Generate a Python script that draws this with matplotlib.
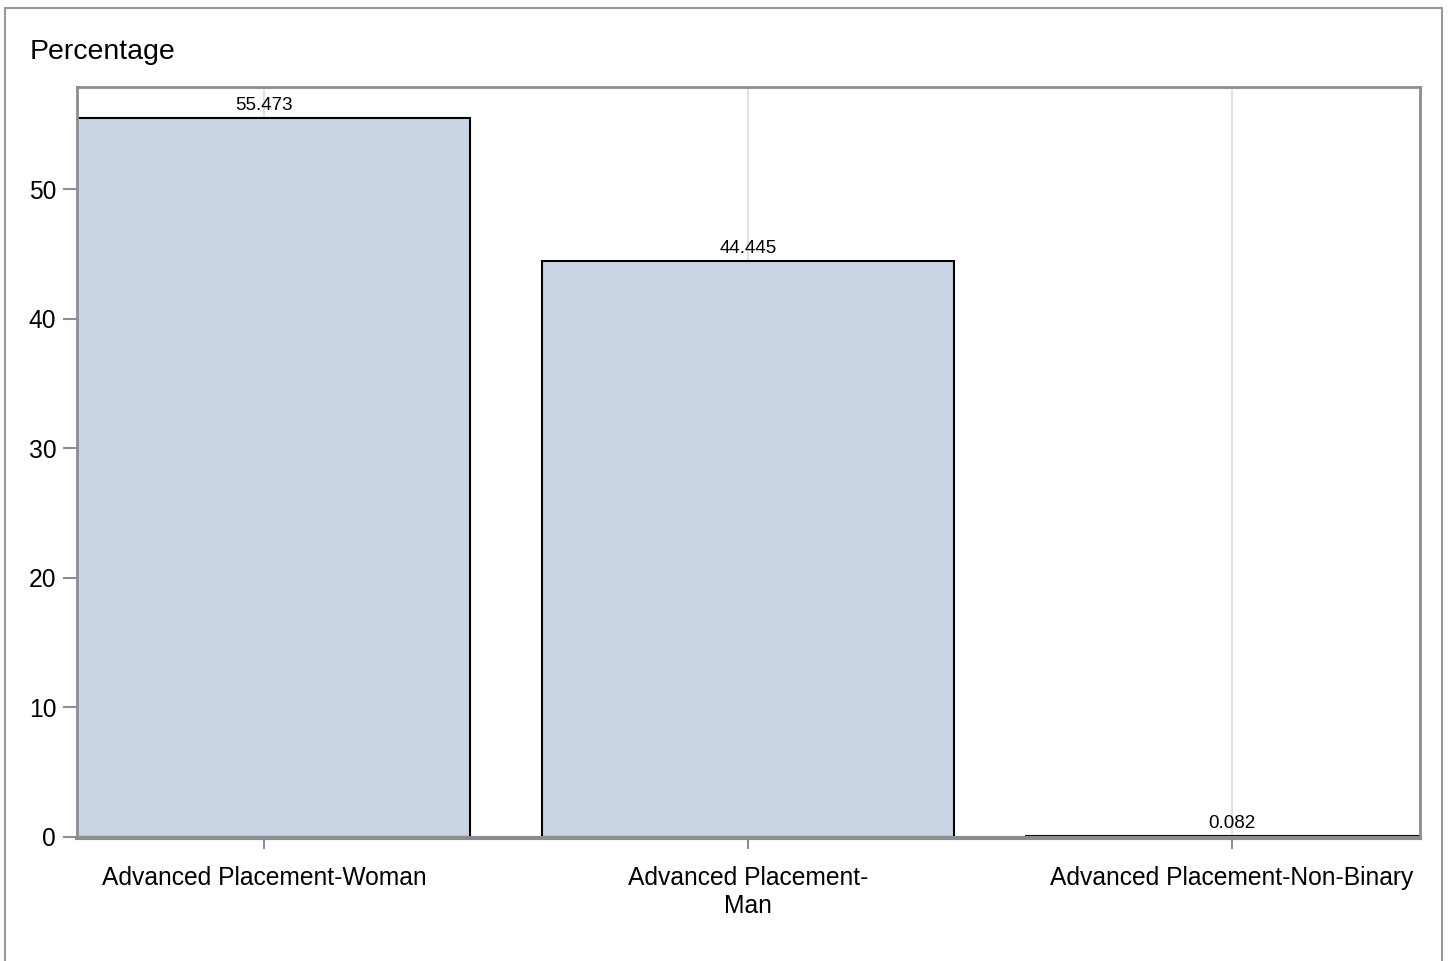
import matplotlib
matplotlib.use('Agg')
import matplotlib.pyplot as plt
from matplotlib.patches import Rectangle

# 数据
categories = ['Advanced Placement-Woman', 'Advanced Placement-\nMan', 'Advanced Placement-Non-Binary']
values = [55.473, 44.445, 0.082]
value_labels = ['55.473', '44.445', '0.082']
yticks = [0, 10, 20, 30, 40, 50]

plt.rcParams['font.family'] = ['Liberation Sans', 'DejaVu Sans']

GRAY = '#8a8d91'
FILL = '#c9d5e5'

fig = plt.figure(figsize=(14.5, 9.61), dpi=100)
fig.patch.set_facecolor('white')

# 外框
fig.patches.append(Rectangle((5 / 1450, -0.05), 1437 / 1450, 1 - 8 / 961 + 0.05,
                             transform=fig.transFigure, fill=False,
                             edgecolor='#999999', linewidth=1.5))

ax = fig.add_axes([77 / 1450, 1 - 837 / 961, (1420 - 77) / 1450, (837 - 87) / 961])

x = range(len(categories))
ax.bar(x, values, width=0.85, color=FILL, edgecolor='black', linewidth=1.5, zorder=2)

for xi, v, lab in zip(x, values, value_labels):
    ax.annotate(lab, (xi, v), xytext=(0, 3), textcoords='offset points',
                ha='center', va='bottom', fontsize=13.5, zorder=3)

ax.set_xlim(-0.386, 2.388)
ax.set_ylim(0, 57.9)
ax.set_xticks(list(x))
ax.set_xticklabels(categories)
ax.set_yticks(yticks)
ax.tick_params(axis='y', labelsize=17.7, length=10, width=1.5, color=GRAY, pad=5)
ax.tick_params(axis='x', labelsize=17.7, length=8, width=1.5, color=GRAY, pad=12)
for t in ax.get_xticklabels():
    t.set_linespacing(1.2)

ax.grid(axis='x', color='#e2e2e2', linewidth=1.5, zorder=0)
ax.set_axisbelow(True)

for name in ['left', 'top', 'right']:
    ax.spines[name].set_color(GRAY)
    ax.spines[name].set_linewidth(2)
    ax.spines[name].set_zorder(4)
ax.spines['bottom'].set_color(GRAY)
ax.spines['bottom'].set_linewidth(3)
ax.spines['bottom'].set_position(('outward', 0.9))
ax.spines['bottom'].set_zorder(4)

fig.text(30 / 1450, 1 - 52 / 961, 'Percentage', fontsize=20.5, ha='left', va='center')

fig.savefig('out.png', dpi=100)
